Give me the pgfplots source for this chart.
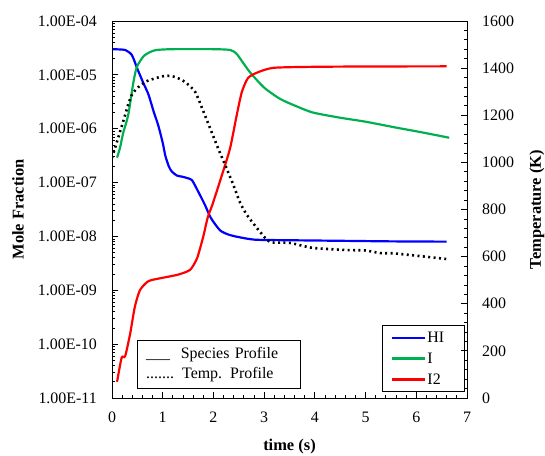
\documentclass[border=0pt]{standalone}
\usepackage{fontspec}
\setmainfont{Liberation Serif}
\usepackage{pgfplots}
\pgfplotsset{compat=1.18}
\definecolor{cHI}{RGB}{0,0,255}
\definecolor{cI}{RGB}{0,176,80}
\definecolor{cItwo}{RGB}{255,0,0}
\begin{document}
\begin{tikzpicture}
\useasboundingbox (-112bp,-58bp) rectangle (433bp,398bp);
\pgfplotsset{
  every axis/.append style={
    width=355bp, height=377bp, scale only axis,
    xmin=0, xmax=7,
    /pgf/number format/assume math mode=true,
    /pgf/number format/1000 sep={},
    tick label style={font=\fontsize{16}{19}\selectfont},
    label style={font=\bfseries\fontsize{16.5}{19}\selectfont},
    tick align=inside,
    major tick length=6bp, minor tick length=3bp,
    every tick/.style={black, line width=0.8pt},
    axis line style={line width=0.9pt},
  }
}
\begin{axis}[
  ymode=log, ymin=1e-11, ymax=1e-4,
  xtick={0,1,2,3,4,5,6,7},
  minor x tick num=4,
  xtick pos=bottom, ytick pos=left,
  ytick={1e-11,1e-10,1e-9,1e-8,1e-7,1e-6,1e-5,1e-4},
  yticklabels={1.00E-11,1.00E-10,1.00E-09,1.00E-08,1.00E-07,1.00E-06,1.00E-05,1.00E-04},
  xticklabel style={anchor=north, inner sep=0pt, yshift=-14bp},
  yticklabel style={anchor=east, inner sep=0pt, xshift=-15bp},
  xlabel={time (s)}, ylabel={Mole Fraction},
  xlabel style={at={(axis description cs:0.5,-0.13)}, anchor=center},
  ylabel style={at={(axis description cs:-0.265,0.5)}, anchor=center, rotate=0},
  legend style={at={(rel axis cs:0.994,0.016)}, anchor=south east, draw=black, line width=0.8pt,
    font=\fontsize{16}{19}\selectfont, row sep=5bp, inner xsep=9bp, inner ysep=4bp,
    nodes={inner xsep=1bp, inner ysep=2bp, text width=27bp}},
  legend cell align=left,
  legend image code/.code={\draw[#1, line width=2.2pt] (0bp,0bp) -- (33bp,0bp);},
]
\addplot[cHI, line width=2.2pt, smooth, tension=0.4] coordinates {
(0.02,3.0e-5) (0.2,2.95e-5) (0.26,2.9e-5) (0.39,2.35e-5) (0.51,1.23e-5) (0.62,7.0e-6)
(0.72,4.3e-6) (0.82,2.1e-6) (0.91,1.17e-6) (1.0,5.5e-7) (1.05,3.2e-7) (1.12,2.0e-7) (1.18,1.6e-7)
(1.28,1.35e-7) (1.38,1.29e-7) (1.5,1.2e-7) (1.58,1.1e-7) (1.70,6.8e-8) (1.83,3.9e-8)
(1.95,2.2e-8) (2.13,1.3e-8) (2.3,1.08e-8) (2.48,9.8e-9) (2.82,8.7e-9) (3.5,8.5e-9)
(4.5,8.3e-9) (5.5,8.1e-9) (6.6,8.0e-9)};
\addlegendentry{HI}
\addplot[cI, line width=2.2pt, smooth, tension=0.4] coordinates {
(0.1,2.9e-7) (0.16,4.5e-7) (0.22,8.3e-7) (0.32,1.8e-6) (0.42,7.1e-6) (0.49,1.4e-5)
(0.62,2.2e-5) (0.75,2.65e-5) (0.88,2.9e-5) (1.2,3.0e-5) (2.0,3.0e-5) (2.33,2.9e-5)
(2.45,2.5e-5) (2.52,2.05e-5) (2.72,1.12e-5) (3.0,5.8e-6) (3.31,3.6e-6) (3.6,2.7e-6)
(3.96,2.0e-6) (4.5,1.6e-6) (5.0,1.35e-6) (5.6,1.05e-6) (6.1,8.6e-7) (6.65,6.8e-7)};
\addlegendentry{I}
\addplot[cItwo, line width=2.2pt, smooth, tension=0.4] coordinates {
(0.1,2.0e-11) (0.19,5.6e-11) (0.26,6.0e-11) (0.36,1.6e-10) (0.45,4.9e-10) (0.55,1.0e-9)
(0.72,1.48e-9) (0.99,1.7e-9) (1.3,1.95e-9) (1.54,2.4e-9) (1.68,4.0e-9) (1.8,1.0e-8)
(1.89,2.3e-8) (1.98,3.9e-8) (2.17,1.4e-7) (2.33,4.4e-7) (2.46,1.8e-6) (2.56,4.8e-6)
(2.68,8.7e-6) (2.86,1.1e-5) (3.18,1.35e-5) (3.96,1.41e-5) (5.0,1.43e-5) (6.6,1.44e-5)};
\addlegendentry{I2}
\node[draw, line width=0.8pt, anchor=south west, inner xsep=9bp, inner ysep=7bp, align=left,
  font=\fontsize{16}{20}\selectfont, text width=145bp] at (rel axis cs:0.070,0.024)
  {\_\_\_\ \ Species Profile\\....... Temp. Profile};
\end{axis}
\begin{axis}[
  axis y line*=right, axis x line=none,
  ymin=0, ymax=1600,
  ytick={0,200,400,600,800,1000,1200,1400,1600},
  minor y tick num=4,
  yticklabel style={anchor=west, inner sep=0pt, xshift=15bp},
  ylabel={Temperature (K)},
  ylabel style={at={(axis description cs:1.197,0.5)}, anchor=center, rotate=0},
]
\addplot[black, line width=2.6pt, dash pattern=on 2bp off 3.4bp, smooth, tension=0.4] coordinates {
(0.0,1019) (0.2,1159) (0.39,1286) (0.65,1341) (1.04,1367) (1.25,1362) (1.44,1341) (1.64,1299)
(1.83,1201) (2.09,1061) (2.37,917) (2.52,832) (2.66,777) (2.92,705) (3.12,662) (3.51,658)
(3.96,637) (4.63,628) (5.0,626) (5.29,615) (5.55,614) (6.0,604) (6.59,590)};
\end{axis}
\end{tikzpicture}
\end{document}
